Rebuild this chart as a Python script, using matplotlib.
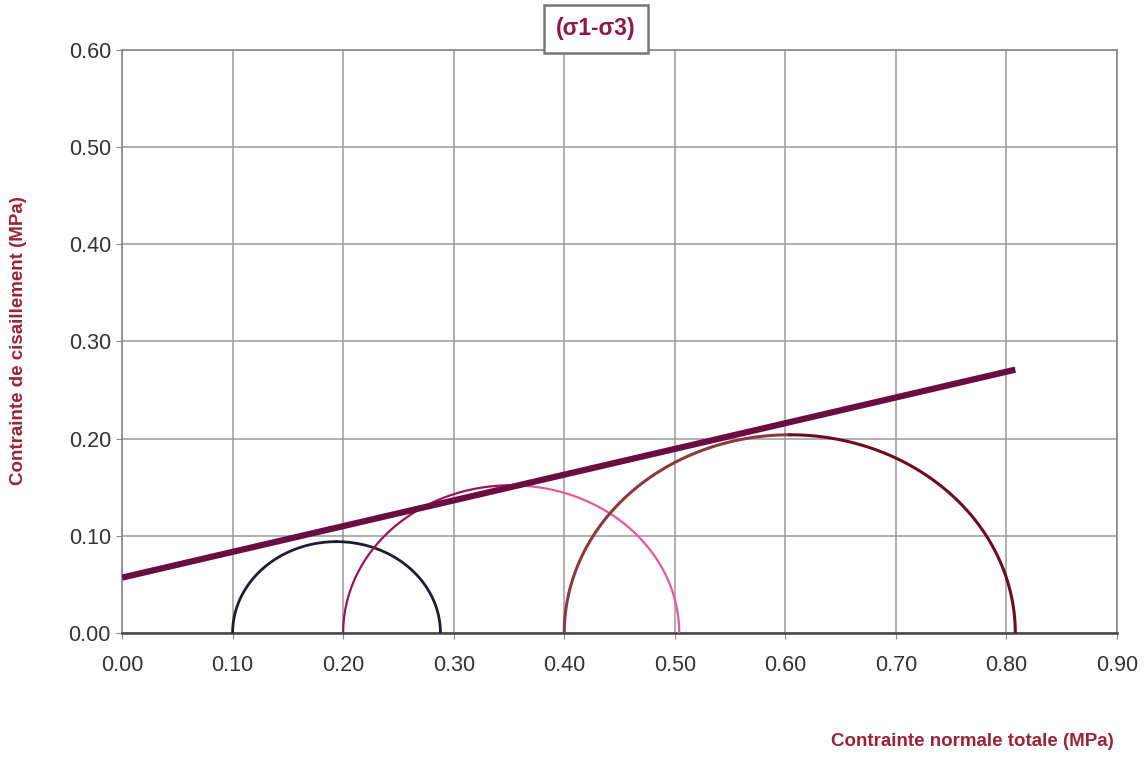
import numpy as np
import matplotlib.pyplot as plt

plt.rcParams['font.family'] = ['Liberation Sans', 'DejaVu Sans']

# principal stresses for each test (MPa)
sigma3 = [0.10, 0.20, 0.40]
sigma1 = [0.288, 0.504, 0.808]
# colour of the rising half / falling half of each circle
colors_left = ['#1c1c34', '#9c1458', '#8a3a3c']
colors_right = ['#1c1c34', '#e4589c', '#6c0c1c']
widths = [2.0, 1.6, 2.2]

# failure envelope endpoints
env_x = [0.0, 0.808]
env_y = [0.057, 0.271]

label_color = '#9b2335'

fig = plt.figure(figsize=(11.46, 7.62), dpi=100)
ax = fig.add_axes([0.1065, 0.1693, 0.8682, 0.7651])

for s3, s1, cl, cr, lw in zip(sigma3, sigma1, colors_left, colors_right, widths):
    c = (s1 + s3) / 2
    r = (s1 - s3) / 2
    t1 = np.linspace(np.pi, np.pi / 2, 60)
    t2 = np.linspace(np.pi / 2, 0, 60)
    ax.plot(c + r * np.cos(t1), r * np.sin(t1), color=cl, lw=lw, zorder=3)
    ax.plot(c + r * np.cos(t2), r * np.sin(t2), color=cr, lw=lw, zorder=3)

ax.plot(env_x, env_y, color='#6a0d40', lw=4.5, solid_capstyle='butt', zorder=4)

ax.set_xlim(0, 0.9)
ax.set_ylim(0, 0.6)
ax.set_xticks(np.arange(0, 0.91, 0.1))
ax.set_yticks(np.arange(0, 0.61, 0.1))
ax.set_xticklabels([f'{v:.2f}' for v in np.arange(0, 0.91, 0.1)])
ax.set_yticklabels([f'{v:.2f}' for v in np.arange(0, 0.61, 0.1)])
ax.tick_params(labelsize=15.5, colors='#333333', length=4, color='#888888')
ax.tick_params(axis='x', pad=12)
ax.tick_params(axis='y', pad=4)
ax.grid(True, color='#9a9a9a', lw=1.1)
ax.set_axisbelow(True)
for name, sp in ax.spines.items():
    sp.set_color('#888888')
    sp.set_linewidth(1.2)
ax.spines['bottom'].set_color('#444444')
ax.spines['bottom'].set_linewidth(1.8)

fig.text(0.520, 0.962, '(σ1-σ3)', ha='center', va='center', fontsize=16.5,
         fontweight='bold', color='#8b1a4a',
         bbox=dict(boxstyle='square,pad=0.55', fc='white', ec='#777777', lw=1.8))

fig.text(0.016, 0.553, 'Contrainte de cisaillement (MPa)', rotation=90,
         ha='center', va='center', fontsize=13.5, fontweight='bold', color=label_color)
fig.text(0.972, 0.016, 'Contrainte normale totale (MPa)', ha='right', va='bottom',
         fontsize=13.5, fontweight='bold', color=label_color)

fig.savefig('out.png', dpi=100, facecolor='white')
